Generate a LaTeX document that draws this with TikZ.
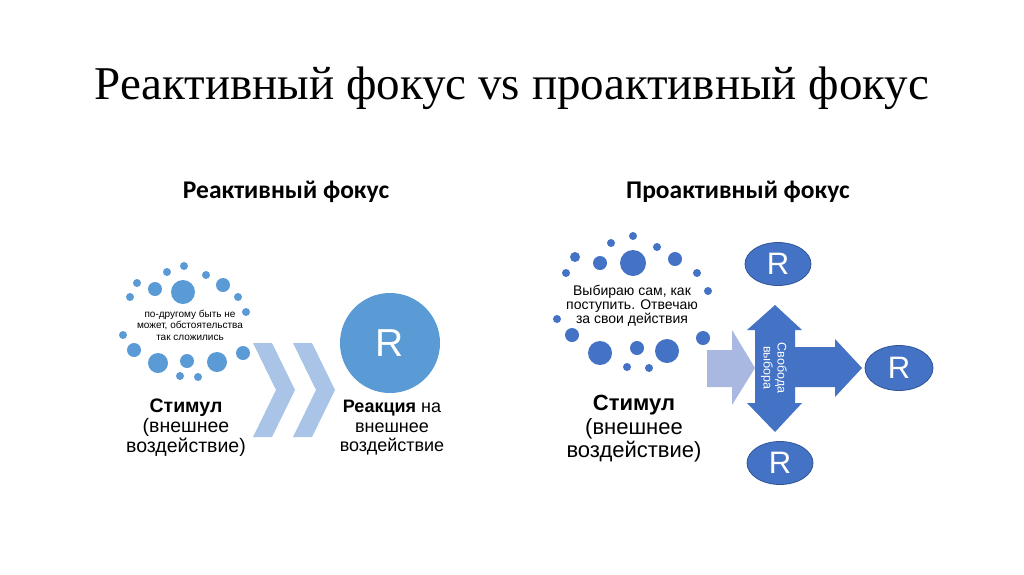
\documentclass[tikz,border=0pt]{standalone}
\usepackage{fontspec}
\setmainfont{Liberation Serif}
\setsansfont{Liberation Sans}
\newfontfamily\subfont{Carlito}
\usetikzlibrary{shapes.geometric}
\definecolor{lblue}{HTML}{5B9BD5}
\definecolor{dblue}{HTML}{4472C4}
\definecolor{oblue}{HTML}{2F5597}
\definecolor{chev}{RGB}{170,196,232}
\definecolor{larrow}{RGB}{168,184,224}
\tikzset{
  ldot/.style={fill=lblue},
  rdot/.style={fill=dblue},
  txt/.style={font=\sffamily, align=center, inner sep=0pt},
  rell/.style={ellipse, draw=oblue, line width=0.8pt, fill=dblue, text=white, font=\sffamily\fontsize{31}{31}\selectfont, minimum width=66pt, minimum height=43pt, inner sep=0pt},
}
\begin{document}
\begin{tikzpicture}[x=1pt,y=-1pt]
\useasboundingbox (0,0) rectangle (1024,574);
\fill[white] (0,0) rectangle (1024,574);
% title
\node[font=\fontsize{47}{47}\selectfont, inner sep=0pt] (title) at (512,88) {Реактивный фокус vs проактивный фокус};
\node[font=\subfont\bfseries\fontsize{25.5}{25.5}\selectfont, inner sep=0pt] (st1) at (286,192) {Реактивный фокус};
\node[font=\subfont\bfseries\fontsize{25.5}{25.5}\selectfont, inner sep=0pt] (st2) at (738,192) {Проактивный фокус};
% left cluster
\foreach \x/\y/\r in {184/266/4,167/272/4,206/275/4,137/283/4,183/292/12,155/289/7,223/285/7,130/297/4,238/297/4,246/312/4,123/335/4,134/350/7,243/353/7,158/363/10,187/361/7,217/362/10,180/376/4,198/377/4}
  \fill[ldot] (\x,\y) circle (\r);
\node[txt, font=\sffamily\fontsize{10}{11.5}\selectfont] (ltext) at (190,325) {по-другому быть не\\может, обстоятельства\\так сложились};
% chevrons
\fill[chev] (253,343) -- (272,343) -- (295,390) -- (272,437) -- (253,437) -- (276,390) -- cycle;
\fill[chev] (293,343) -- (312,343) -- (335,390) -- (312,437) -- (293,437) -- (316,390) -- cycle;
% big circle
\node[circle, fill=lblue, minimum size=100pt, inner sep=0pt, text=white, font=\sffamily\fontsize{39}{39}\selectfont] (bigR) at (390,343) {R};
\node[txt, font=\sffamily\fontsize{18}{19.5}\selectfont] (react) at (392,428) {\textbf{Реакция} на\\внешнее\\воздействие};
\node[txt, font=\sffamily\fontsize{19.5}{20}\selectfont] (stim1) at (186,428) {\textbf{Стимул}\\(внешнее\\воздействие)};
% right cluster
\foreach \x/\y/\r in {633/236/4,611/243/4,657/247/4,575/257/5,600/263/7,633/263/13,675/259/7,566/273/4,697/273/4,708/291/4,557/319/4,572/335/7,703/338/7,600/353/12,637/348/7,667/351/12,627/367/4,649/368/4}
  \fill[rdot] (\x,\y) circle (\r);
\node[txt, font=\sffamily\fontsize{14}{14}\selectfont] (rtext) at (632,306) {Выбираю сам, как\\поступить. Отвечаю\\за свои действия};
\node[txt, font=\sffamily\fontsize{22}{23.5}\selectfont] (stim2) at (634,429) {\textbf{Стимул}\\(внешнее\\воздействие)};
% light arrow
\fill[larrow] (707,350) -- (732,350) -- (732,330) -- (755,368) -- (732,405) -- (732,387) -- (707,387) -- cycle;
% cross arrow
\fill[dblue] (775,305) -- (802,330) -- (795,330) -- (795,347) -- (835,347) -- (835,339) -- (862,368) -- (835,397) -- (835,387) -- (795,387) -- (795,403) -- (802,403) -- (775,432) -- (747,403) -- (755,403) -- (755,330) -- (747,330) -- cycle;
\node[txt, text=white, rotate=-90, font=\sffamily\fontsize{12.5}{14}\selectfont] (free) at (774,368) {Свобода\\выбора};
% ellipses
\node[rell] (r1) at (778,264) {R};
\node[rell, minimum width=68pt, minimum height=45pt] (r2) at (899,368) {R};
\node[rell] (r3) at (780,463) {R};
\end{tikzpicture}
\end{document}
